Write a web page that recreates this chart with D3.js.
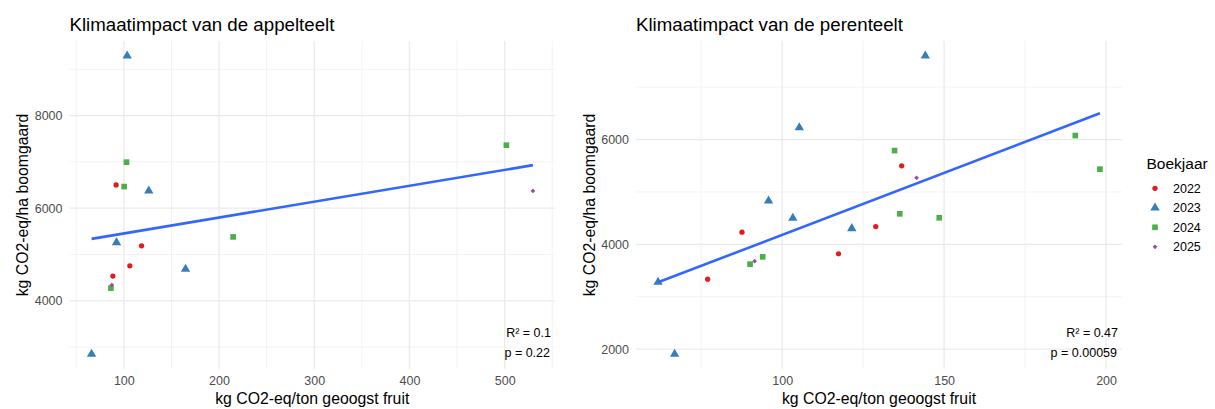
<!DOCTYPE html>
<html><head><meta charset="utf-8">
<script src="https://cdn.jsdelivr.net/npm/d3@7"></script>
<style>
body{margin:0;background:#fff;}
svg{display:block;font-family:"Liberation Sans",Arial,Helvetica,sans-serif;}
</style></head>
<body><svg id="c" width="1215" height="409"></svg>
<script>
// ---- data ----
const years = ["2022","2023","2024","2025"];
const yearColors = ["#E41A1C","#377EB8","#4DAF4A","#984EA3"];

// appelteelt
const appelYear = ["2022","2022","2022","2022","2023","2023","2023","2023","2023","2024","2024","2024","2024","2024","2025","2025"];
const appelX = [91.9,118.6,106.3,88.5, 103.5,126.2,92.3,164.8,66.1, 102.8,100.3,214.8,86.4,501.8, 87.4,529.7];
const appelY = [6503,5188,4756,4533, 9289,6374,5259,4685,2849, 6994,6467,5380,4274,7361, 4339,6374];

// perenteelt
const perenYear = ["2022","2022","2022","2022","2022","2023","2023","2023","2023","2023","2023","2023","2024","2024","2024","2024","2024","2024","2024","2025","2025"];
const perenX = [87.6,136.9,128.9,117.4,77.0, 105.3,95.8,103.3,121.5,144.2,61.7,66.8, 134.7,136.3,148.5,190.5,198.1,94.0,90.1, 141.5,91.5];
const perenY = [4233,5498,4340,3819,3336, 6229,4830,4500,4302,7597,3279,1905, 5790,4582,4506,6076,5435,3761,3622, 5269,3679];

const appelXTicks = [100,200,300,400,500];
const appelYTicks = [4000,6000,8000];
const perenXTicks = [100,150,200];
const perenYTicks = [2000,4000,6000];

const panels = [
  {title:"Klimaatimpact van de appelteelt", yr:appelYear, xs:appelX, ys:appelY, xt:appelXTicks, yt:appelYTicks, x0:69.5, x1:555, r2:"R² = 0.1", p:"p = 0.22"},
  {title:"Klimaatimpact van de perenteelt", yr:perenYear, xs:perenX, ys:perenY, xt:perenXTicks, yt:perenYTicks, x0:636, x1:1122, r2:"R² = 0.47", p:"p = 0.00059"}
];
const xLabel = "kg CO2-eq/ton geoogst fruit";
const yLabel = "kg CO2-eq/ha boomgaard";

const svg = d3.select("#c");
const pTop = 41, pBottom = 369;
const color = d3.scaleOrdinal(years, yearColors);
const shapes = d3.scaleOrdinal(years, [d3.symbolCircle, d3.symbolTriangle, d3.symbolSquare, d3.symbolSquare]);
const sizes = d3.scaleOrdinal(years, [22, 38, 32, 11]);
const rots = d3.scaleOrdinal(years, [0, 0, 0, 45]);

function expand(ext){ const d=(ext[1]-ext[0])*0.05; return [ext[0]-d, ext[1]+d]; }
function minors(ticks, dom){
  const step = ticks[1]-ticks[0];
  const out=[];
  for(let v=ticks[0]-step/2; v<=dom[1]; v+=step){ if(v>=dom[0]) out.push(v); }
  return out;
}

panels.forEach(pn=>{
  const x = d3.scaleLinear().domain(expand(d3.extent(pn.xs))).range([pn.x0, pn.x1]);
  const y = d3.scaleLinear().domain(expand(d3.extent(pn.ys))).range([pBottom, pTop]);
  const g = svg.append("g");
  // minor grid
  minors(pn.xt, x.domain()).forEach(v=>g.append("line").attr("x1",x(v)).attr("x2",x(v)).attr("y1",pTop).attr("y2",pBottom).attr("stroke","#f3f3f3").attr("stroke-width",1));
  minors(pn.yt, y.domain()).forEach(v=>g.append("line").attr("y1",y(v)).attr("y2",y(v)).attr("x1",pn.x0).attr("x2",pn.x1).attr("stroke","#f3f3f3").attr("stroke-width",1));
  // major grid
  pn.xt.forEach(v=>g.append("line").attr("x1",x(v)).attr("x2",x(v)).attr("y1",pTop).attr("y2",pBottom).attr("stroke","#ebebeb").attr("stroke-width",1.3));
  pn.yt.forEach(v=>g.append("line").attr("y1",y(v)).attr("y2",y(v)).attr("x1",pn.x0).attr("x2",pn.x1).attr("stroke","#ebebeb").attr("stroke-width",1.3));
  // axes (labels only)
  const ax = g.append("g").attr("transform",`translate(0,${pBottom+3})`).call(d3.axisBottom(x).tickValues(pn.xt).tickFormat(d3.format("d")).tickSize(0).tickPadding(4));
  const ay = g.append("g").attr("transform",`translate(${pn.x0-3},0)`).call(d3.axisLeft(y).tickValues(pn.yt).tickFormat(d3.format("d")).tickSize(0).tickPadding(4));
  [ax,ay].forEach(a=>{ a.select(".domain").remove(); a.selectAll("text").attr("fill","#4d4d4d").attr("font-size",12.5).attr("font-family","Liberation Sans, Arial, sans-serif"); });
  // regression line
  const n = pn.xs.length, mx = d3.mean(pn.xs), my = d3.mean(pn.ys);
  let sxy=0, sxx=0;
  for(let i=0;i<n;i++){ sxy+=(pn.xs[i]-mx)*(pn.ys[i]-my); sxx+=(pn.xs[i]-mx)**2; }
  const b = sxy/sxx, a = my - b*mx;
  const ex = d3.extent(pn.xs);
  // points
  pn.xs.forEach((v,i)=>{
    const yr = pn.yr[i];
    g.append("path").attr("d", d3.symbol(shapes(yr), sizes(yr))())
      .attr("transform",`translate(${x(v)},${y(pn.ys[i])}) rotate(${rots(yr)})`).attr("fill", color(yr));
  });
  g.append("line").attr("x1",x(ex[0])).attr("y1",y(a+b*ex[0])).attr("x2",x(ex[1])).attr("y2",y(a+b*ex[1]))
    .attr("stroke","#3366FF").attr("stroke-width",2.6).attr("stroke-linecap","butt");
  // annotations
  g.append("text").attr("x",pn.x1-4).attr("y",337).attr("text-anchor","end").attr("font-size",12.5).attr("fill","#000").text(pn.r2);
  g.append("text").attr("x",pn.x1-5).attr("y",356.5).attr("text-anchor","end").attr("font-size",12.5).attr("fill","#000").text(pn.p);
  // titles
  g.append("text").attr("x",pn.x0).attr("y",31).attr("font-size",18.7).attr("fill","#000").text(pn.title);
  g.append("text").attr("x",(pn.x0+pn.x1)/2).attr("y",403.5).attr("text-anchor","middle").attr("font-size",15.8).attr("fill","#000").text(xLabel);
  g.append("text").attr("transform",`translate(${pn.x0-41.5},${(pTop+pBottom)/2}) rotate(-90)`).attr("text-anchor","middle").attr("font-size",15.8).attr("fill","#000").text(yLabel);
});

// legend
const lg = svg.append("g");
lg.append("text").attr("x",1146.5).attr("y",168.5).attr("font-size",15.5).attr("fill","#000").text("Boekjaar");
years.forEach((yr,i)=>{
  const cy = 188.3 + i*19.5;
  lg.append("path").attr("d", d3.symbol(shapes(yr), sizes(yr))()).attr("transform",`translate(1155,${cy}) rotate(${rots(yr)})`).attr("fill",color(yr));
  lg.append("text").attr("x",1173).attr("y",cy+4.5).attr("font-size",12.5).attr("fill","#000").text(yr);
});
</script></body></html>
